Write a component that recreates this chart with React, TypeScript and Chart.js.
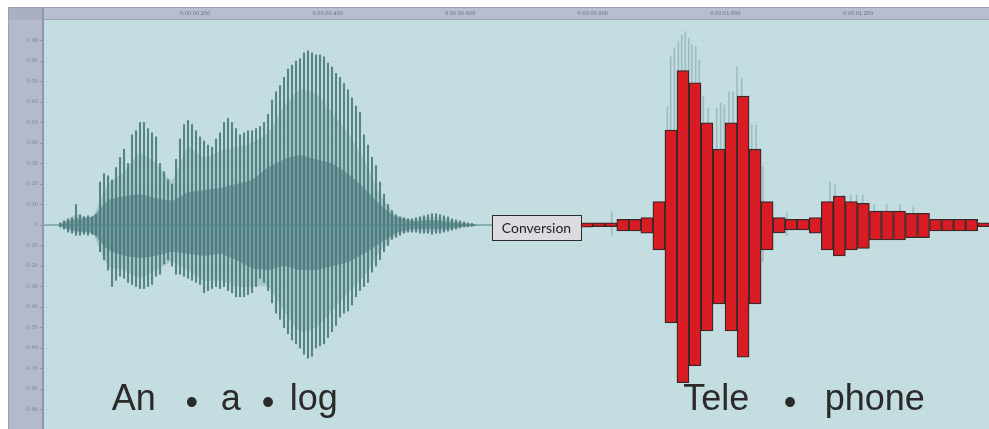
import React, { useEffect, useRef } from 'react';
import { Chart, registerables } from 'chart.js';

Chart.register(...registerables);

// ---------- axes ----------
const xRange = [-0.0278, 1.3976];
const yRange = [-0.995, 1.0];
const xTickValues = [0.2, 0.4, 0.6, 0.8, 1.0, 1.2];
const yTickValues = [0.9, 0.8, 0.7, 0.6, 0.5, 0.4, 0.3, 0.2, 0.1, 0, -0.1, -0.2, -0.3, -0.4, -0.5, -0.6, -0.7, -0.8, -0.9];

// ---------- analog waveform (sampled peak envelope, seconds / amplitude) ----------
const waveStart = -0.00362;
const waveStep = 0.006033;
const spikeHi = [
  0.01, 0.02, 0.03, 0.035, 0.10, 0.05, 0.04, 0.045, 0.04, 0.05,
  0.21, 0.25, 0.24, 0.22, 0.28, 0.33, 0.37, 0.30, 0.44, 0.46,
  0.50, 0.50, 0.47, 0.45, 0.43, 0.30, 0.26, 0.22, 0.20, 0.32,
  0.42, 0.49, 0.51, 0.49, 0.46, 0.43, 0.41, 0.39, 0.38, 0.42,
  0.45, 0.50, 0.52, 0.50, 0.47, 0.44, 0.45, 0.46, 0.46, 0.47,
  0.48, 0.50, 0.54, 0.61, 0.65, 0.68, 0.72, 0.76, 0.78, 0.80,
  0.81, 0.84, 0.85, 0.84, 0.83, 0.83, 0.82, 0.79, 0.77, 0.74,
  0.72, 0.69, 0.66, 0.62, 0.58, 0.55, 0.44, 0.39, 0.33, 0.29,
  0.21, 0.15, 0.10, 0.07, 0.05,
  0.04, 0.035, 0.03, 0.03, 0.035, 0.04, 0.045, 0.05, 0.055, 0.055,
  0.05, 0.045, 0.04, 0.03, 0.025, 0.02, 0.015, 0.01, 0.008,
];
const spikeLo = [
  -0.01, -0.02, -0.035, -0.04, -0.05, -0.05, -0.045, -0.05, -0.045, -0.05,
  -0.13, -0.17, -0.22, -0.30, -0.27, -0.25, -0.26, -0.28, -0.29, -0.30,
  -0.31, -0.31, -0.30, -0.29, -0.25, -0.24, -0.19, -0.17, -0.20, -0.24,
  -0.24, -0.25, -0.26, -0.27, -0.28, -0.29, -0.33, -0.32, -0.31, -0.30,
  -0.31, -0.30, -0.32, -0.33, -0.35, -0.35, -0.35, -0.34, -0.33, -0.30,
  -0.26, -0.28, -0.32, -0.38, -0.43, -0.46, -0.50, -0.53, -0.56, -0.58,
  -0.60, -0.63, -0.65, -0.64, -0.60, -0.59, -0.58, -0.55, -0.52, -0.49,
  -0.45, -0.43, -0.42, -0.39, -0.35, -0.32, -0.30, -0.28, -0.23, -0.20,
  -0.17, -0.13, -0.10, -0.07, -0.06,
  -0.05, -0.04, -0.035, -0.035, -0.035, -0.04, -0.04, -0.04, -0.045, -0.04,
  -0.04, -0.035, -0.03, -0.025, -0.02, -0.015, -0.01, -0.008, -0.006,
];

// dense body of the waveform (coarser envelope)
const bandStart = -0.00362;
const bandStep = 0.02413;
const midHi = [0.01, 0.05, 0.04, 0.20, 0.26, 0.35, 0.30, 0.22, 0.38, 0.33, 0.36, 0.38, 0.40, 0.45, 0.58, 0.66, 0.64, 0.55, 0.45, 0.32, 0.15, 0.05, 0.03, 0.04, 0.035, 0.015, 0.004];
const midLo = [-0.01, -0.04, -0.04, -0.20, -0.22, -0.26, -0.22, -0.18, -0.22, -0.27, -0.27, -0.30, -0.30, -0.30, -0.42, -0.52, -0.50, -0.42, -0.33, -0.25, -0.13, -0.05, -0.03, -0.035, -0.03, -0.012, -0.004];
const coreHi = [0.005, 0.03, 0.04, 0.12, 0.14, 0.15, 0.13, 0.12, 0.16, 0.17, 0.18, 0.20, 0.22, 0.28, 0.32, 0.34, 0.32, 0.30, 0.25, 0.18, 0.10, 0.04, 0.02, 0.025, 0.02, 0.01, 0.003];
const coreLo = [-0.005, -0.03, -0.04, -0.12, -0.15, -0.16, -0.15, -0.13, -0.14, -0.15, -0.14, -0.17, -0.21, -0.22, -0.20, -0.22, -0.22, -0.20, -0.18, -0.14, -0.09, -0.04, -0.02, -0.02, -0.02, -0.01, -0.003];

// flat line of silence before the conversion box
const baselineT = [-0.0278, 0.648];
const baselineV = [0, 0];

// faint original telephone waveform behind the digital bars
const ghostT = [0.8285, 0.9124, 0.9175, 0.9229, 0.9290, 0.9341, 0.9395, 0.9447, 0.9496, 0.9552, 0.9606, 0.9667, 0.9742, 0.9869, 0.9929, 0.9983, 1.0054, 1.0115, 1.0175, 1.0246, 1.0397, 1.0462, 1.0563, 1.0925, 1.1578, 1.1653, 1.1778, 1.1890, 1.1980, 1.2071, 1.2246, 1.2433, 1.2633, 1.2834];
const ghostHi = [0.065, 0.577, 0.821, 0.862, 0.894, 0.927, 0.943, 0.911, 0.878, 0.870, 0.805, 0.626, 0.569, 0.569, 0.594, 0.585, 0.650, 0.650, 0.772, 0.716, 0.488, 0.488, 0.285, 0.06, 0.211, 0.195, 0.146, 0.146, 0.146, 0.146, 0.098, 0.098, 0.098, 0.09];
const ghostLo = [-0.05, -0.3, -0.4, -0.45, -0.5, -0.55, -0.55, -0.5, -0.5, -0.5, -0.45, -0.35, -0.3, -0.3, -0.3, -0.3, -0.35, -0.35, -0.4, -0.35, -0.28, -0.28, -0.18, -0.05, -0.12, -0.12, -0.1, -0.1, -0.1, -0.1, -0.07, -0.07, -0.07, -0.06];

// ---------- digital (quantised) telephone signal ----------
const redStart = 0.7908;
const redStep = 0.018145;
const redHi = [0.011, 0.011, 0.011, 0.028, 0.028, 0.036, 0.114, 0.463, 0.753, 0.694, 0.499, 0.370, 0.499, 0.629, 0.370, 0.114, 0.036, 0.028, 0.028, 0.036, 0.114, 0.141, 0.114, 0.106, 0.068, 0.068, 0.068, 0.057, 0.057, 0.028, 0.028, 0.028, 0.028, 0.011];
const redLo = [-0.011, -0.008, -0.008, -0.029, -0.029, -0.040, -0.122, -0.477, -0.769, -0.686, -0.517, -0.385, -0.517, -0.645, -0.385, -0.122, -0.038, -0.024, -0.024, -0.040, -0.122, -0.151, -0.122, -0.114, -0.073, -0.073, -0.073, -0.062, -0.062, -0.029, -0.029, -0.029, -0.029, -0.008];

// ---------- annotations ----------
const convLabel = 'Conversion';
const convBox = { t0: 0.648, t1: 0.782, v0: 0.049, v1: -0.073 };
const bigWords = [
  { text: 'An', t: 0.0744 },
  { text: 'a', t: 0.2403 },
  { text: 'log', t: 0.3459 },
  { text: 'Tele', t: 0.9365 },
  { text: 'phone', t: 1.1528 },
];
const bulletTs = [0.195, 0.3101, 1.0974];
const bigBaselineV = -0.902;
const bulletCenterV = -0.862;

const fmtTime = (t: number) => {
  const ms = Math.round(t * 1000);
  const s = Math.floor(ms / 1000);
  return `0:00:0${s}.${String(ms % 1000).padStart(3, '0')}`;
};

const bgPlugin = {
  id: 'bgPlugin',
  beforeDraw(chart: any) {
    const { ctx, chartArea: a, width, height } = chart;
    ctx.save();
    ctx.fillStyle = '#b4bacc';
    ctx.fillRect(0, 0, a.left, height);
    ctx.fillStyle = '#b8becf';
    ctx.fillRect(a.left, 0, width - a.left, a.top);
    ctx.fillStyle = '#aab0c0';
    ctx.fillRect(0, 0, a.left, a.top);
    ctx.fillStyle = '#c4dde1';
    ctx.fillRect(a.left, a.top, a.right - a.left, a.bottom - a.top);
    ctx.strokeStyle = '#8d96aa';
    ctx.lineWidth = 2;
    ctx.beginPath();
    ctx.moveTo(a.left - 1, 0);
    ctx.lineTo(a.left - 1, height);
    ctx.stroke();
    ctx.lineWidth = 1;
    ctx.beginPath();
    ctx.moveTo(a.left, a.top - 0.5);
    ctx.lineTo(width, a.top - 0.5);
    ctx.moveTo(0.5, 0);
    ctx.lineTo(0.5, height);
    ctx.moveTo(0, 0.5);
    ctx.lineTo(width, 0.5);
    ctx.strokeStyle = '#9aa2b5';
    ctx.stroke();
    ctx.restore();
  },
};

const annotPlugin = {
  id: 'annotPlugin',
  afterDatasetsDraw(chart: any) {
    const { ctx } = chart;
    const xs = chart.scales.x;
    const ys = chart.scales.y;
    ctx.save();
    // conversion box
    const bx0 = xs.getPixelForValue(convBox.t0);
    const bx1 = xs.getPixelForValue(convBox.t1);
    const by0 = ys.getPixelForValue(convBox.v0);
    const by1 = ys.getPixelForValue(convBox.v1);
    ctx.fillStyle = '#dcdce0';
    ctx.fillRect(bx0, by0, bx1 - bx0, by1 - by0);
    ctx.strokeStyle = '#2b2b2b';
    ctx.lineWidth = 1;
    ctx.strokeRect(Math.round(bx0) + 0.5, Math.round(by0) + 0.5, Math.round(bx1 - bx0), Math.round(by1 - by0));
    ctx.fillStyle = '#222';
    ctx.font = '14px Lato';
    ctx.textAlign = 'center';
    ctx.textBaseline = 'middle';
    ctx.fillText(convLabel, (bx0 + bx1) / 2, (by0 + by1) / 2 + 1);

    // big syllable words
    ctx.font = '36px "Liberation Sans", Arial, sans-serif';
    ctx.fillStyle = '#2a2a2a';
    ctx.textAlign = 'left';
    ctx.textBaseline = 'alphabetic';
    const yb = ys.getPixelForValue(bigBaselineV);
    bigWords.forEach((w) => {
      const m = ctx.measureText(w.text);
      ctx.fillText(w.text, xs.getPixelForValue(w.t) + m.actualBoundingBoxLeft, yb);
    });
    const yc = ys.getPixelForValue(bulletCenterV);
    ctx.textAlign = 'center';
    bulletTs.forEach((t) => {
      const m = ctx.measureText('•');
      const off = (m.actualBoundingBoxAscent - m.actualBoundingBoxDescent) / 2;
      ctx.fillText('•', xs.getPixelForValue(t), yc + off);
    });
    ctx.restore();
  },
};

export default function App() {
  const ref = useRef<HTMLCanvasElement | null>(null);
  useEffect(() => {
    if (!ref.current) return;
    const spikes = spikeHi.map((h, i) => ({ x: waveStart + i * waveStep, y: [spikeLo[i], h] }));
    const mUp = midHi.map((v, i) => ({ x: bandStart + i * bandStep, y: v }));
    const mDn = midLo.map((v, i) => ({ x: bandStart + i * bandStep, y: v }));
    const cUp = coreHi.map((v, i) => ({ x: bandStart + i * bandStep, y: v }));
    const cDn = coreLo.map((v, i) => ({ x: bandStart + i * bandStep, y: v }));
    const base = baselineT.map((t, i) => ({ x: t, y: baselineV[i] }));
    const ghost = ghostT.map((t, i) => ({ x: t, y: [ghostLo[i], ghostHi[i]] }));
    const red = redHi.map((h, i) => ({ x: redStart + i * redStep, y: [redLo[i], h] }));

    const lineCommon = { type: 'line', pointRadius: 0, borderWidth: 0, tension: 0.2 };

    const chart = new Chart(ref.current, {
      type: 'bar',
      data: {
        datasets: [
          { type: 'bar', data: ghost, backgroundColor: 'rgba(100,140,145,0.4)', barThickness: 1, grouped: false, order: 8 } as any,
          { ...lineCommon, data: mUp, fill: '+1', backgroundColor: 'rgba(86,136,138,0.26)', order: 7 } as any,
          { ...lineCommon, data: mDn, fill: false, order: 7 } as any,
          { type: 'bar', data: spikes, backgroundColor: 'rgba(72,122,124,0.9)', barThickness: 1.4, grouped: false, order: 5 } as any,
          { ...lineCommon, data: cUp, fill: '+1', backgroundColor: 'rgba(72,120,122,0.55)', order: 4 } as any,
          { ...lineCommon, data: cDn, fill: false, order: 4 } as any,
          { type: 'line', data: base, borderColor: '#4f8284', borderWidth: 1.2, pointRadius: 0, fill: false, order: 3 } as any,
          { type: 'bar', data: red, backgroundColor: '#d91b23', borderColor: '#3a2828', borderWidth: 1.3, borderSkipped: false, barThickness: 12, grouped: false, order: 1 } as any,
        ],
      },
      options: {
        animation: false,
        responsive: true,
        maintainAspectRatio: false,
        layout: { padding: 0 },
        plugins: { legend: { display: false }, tooltip: { enabled: false } },
        scales: {
          x: {
            type: 'linear',
            position: 'top',
            min: xRange[0],
            max: xRange[1],
            offset: false,
            afterBuildTicks: (s: any) => { s.ticks = xTickValues.map((v) => ({ value: v })); },
            afterFit: (s: any) => { s.height = 13; s.paddingLeft = 0; s.paddingRight = 0; },
            ticks: {
              callback: (v: any) => fmtTime(Number(v)),
              font: { family: 'DejaVu Sans', size: 5 },
              color: '#666c7e',
              padding: 3,
              maxRotation: 0,
              autoSkip: false,
            },
            grid: { display: true, drawOnChartArea: false, drawTicks: false, offset: false },
            border: { display: false },
          },
          y: {
            type: 'linear',
            min: yRange[0],
            max: yRange[1],
            afterBuildTicks: (s: any) => { s.ticks = yTickValues.map((v) => ({ value: v })); },
            afterFit: (s: any) => { s.width = 36; s.paddingTop = 0; s.paddingBottom = 0; },
            ticks: {
              callback: (v: any) => (Number(v) === 0 ? '0' : Number(v).toFixed(2)),
              font: { family: 'DejaVu Sans', size: 5 },
              color: '#7c8396',
              padding: 2,
              autoSkip: false,
            },
            grid: { color: 'rgba(175,200,205,0.2)', tickColor: '#8e95a8', tickLength: 4, drawTicks: true },
            border: { display: false },
          },
        },
      },
      plugins: [bgPlugin, annotPlugin],
    } as any);
    return () => chart.destroy();
  }, []);

  return (
    <div style={{ position: 'fixed', left: 8, top: 7, width: 981, height: 422 }}>
      <canvas ref={ref} />
    </div>
  );
}
